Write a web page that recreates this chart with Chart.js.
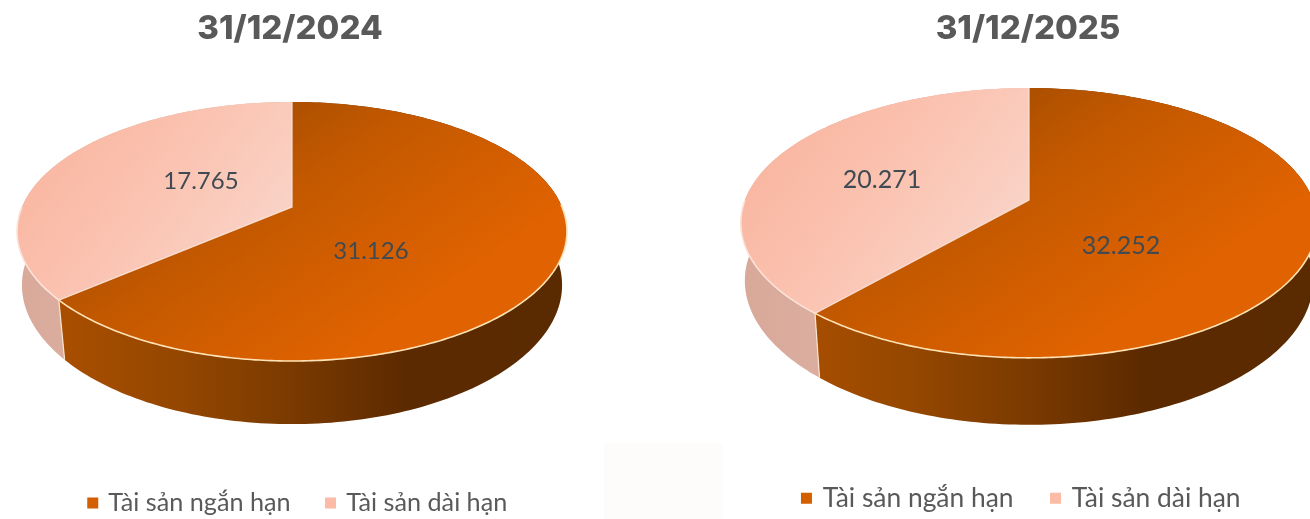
<!DOCTYPE html>
<html><head><meta charset="utf-8">
<style>
html,body{margin:0;padding:0;background:#fff;width:1310px;height:519px;overflow:hidden}
canvas{position:absolute;top:0}
#patch{position:absolute;left:604px;top:443px;width:118px;height:76px;background:#fdfcfa}
</style>
<script src="https://cdn.jsdelivr.net/npm/chart.js@4/dist/chart.umd.min.js"></script>
</head><body>
<div id="patch"></div>
<canvas id="c1" width="655" height="519" style="left:0"></canvas>
<canvas id="c2" width="655" height="519" style="left:655px"></canvas>
<script>
const categories = ["Tài sản ngắn hạn", "Tài sản dài hạn"];
const values2024 = [31.126, 17.765];
const values2025 = [32.252, 20.271];
const titles = ["31/12/2024", "31/12/2025"];
const ORANGE = "#D45F00", PEACH = "#FBBBA6";

const perspectivePie = {
  id: "perspectivePie",
  afterLayout(chart, args, o) {
    const l = chart.legend, t = chart.titleBlock;
    const dx = o.legendCx - (l.left + l.right) / 2, dy = o.legendTop - l.top;
    l.left += dx; l.right += dx; l.top += dy; l.bottom += dy;
    const tx = o.titleCx - (t.left + t.right) / 2, ty = o.titleTop - t.top;
    t.left += tx; t.right += tx; t.top += ty; t.bottom += ty;
  },
  beforeDatasetsDraw(chart, args, o) {
    const ctx = chart.ctx, arcs = chart.getDatasetMeta(0).data;
    const {ax, ay, W, A, k, depth, shrink, shrinkX, shrinkSlope} = o;
    const top = (a, r = 1) => {
      const u = r * Math.cos(a), v = r * Math.sin(a), d = 1 - k * v;
      return [ax + W * u / d, ay + A * v / d];
    };
    const bot = a => {
      const v = Math.sin(a), p = top(a), d = 1 - k * v;
      return [ax + (p[0] - ax) * (shrinkX - shrinkSlope * v), ay + (p[1] - ay) * shrink + depth / d];
    };
    const hgrad = (stops) => {
      const g = ctx.createLinearGradient(ax - 285, 0, ax + 285, 0);
      stops.forEach(s => g.addColorStop(s[0], s[1]));
      return g;
    };
    const sideFills = [
      hgrad([[0, "#AC5000"], [0.1, "#A84E00"], [0.3, "#944700"], [0.5, "#7A3A00"], [0.7, "#5C2A00"], [1, "#5A2A00"]]),
      hgrad([[0, "#D8A999"], [0.2, "#DDB0A2"], [1, "#DDB0A2"]])
    ];
    const og = ctx.createLinearGradient(ax - 30, ay - 105, ax + 130, ay + 130);
    og.addColorStop(0, "#A84E00"); og.addColorStop(0.3, "#C25800"); og.addColorStop(0.7, "#D65F00"); og.addColorStop(0.9, "#E06200"); og.addColorStop(1, "#E06200");
    const lg = ctx.createLinearGradient(ax - 250, ay - 70, ax - 40, ay + 90);
    lg.addColorStop(0, "#F9B6A0"); lg.addColorStop(0.55, "#FBC6B5"); lg.addColorStop(1, "#F8D6CB");
    const topFills = [og, lg];
    const N = 200;
    arcs.forEach((arc, i) => {
      const s = arc.startAngle, e = arc.endAngle;
      ctx.beginPath();
      for (let j = 0; j <= N; j++) { const p = top(s + (e - s) * j / N); j ? ctx.lineTo(p[0], p[1]) : ctx.moveTo(p[0], p[1]); }
      for (let j = N; j >= 0; j--) { const p = bot(s + (e - s) * j / N); ctx.lineTo(p[0], p[1]); }
      ctx.closePath();
      ctx.fillStyle = sideFills[i];
      ctx.fill();
    });
    const seam = arcs[1].startAngle;
    const s1 = top(seam), s2 = bot(seam);
    ctx.strokeStyle = "rgba(255,235,215,.9)"; ctx.lineWidth = 1.2;
    ctx.beginPath(); ctx.moveTo(s1[0], s1[1]); ctx.lineTo(s2[0], s2[1]); ctx.stroke();
    arcs.forEach((arc, i) => {
      const s = arc.startAngle, e = arc.endAngle;
      ctx.beginPath(); ctx.moveTo(ax, ay);
      for (let j = 0; j <= N; j++) { const p = top(s + (e - s) * j / N); ctx.lineTo(p[0], p[1]); }
      ctx.closePath();
      ctx.fillStyle = topFills[i];
      ctx.fill();
    });
    ctx.strokeStyle = "rgba(250,225,215,.85)"; ctx.lineWidth = 1.4;
    ctx.beginPath();
    let p = top(arcs[0].startAngle); ctx.moveTo(p[0], p[1]); ctx.lineTo(ax, ay);
    p = top(seam); ctx.lineTo(p[0], p[1]); ctx.stroke();
    ctx.strokeStyle = "#FFE2B4"; ctx.lineWidth = 1.6;
    ctx.beginPath();
    const r0 = -0.02, r1 = seam;
    for (let j = 0; j <= N; j++) { const q = top(r0 + (r1 - r0) * j / N); j ? ctx.lineTo(q[0], q[1]) : ctx.moveTo(q[0], q[1]); }
    ctx.stroke();
    ctx.strokeStyle = "#FBE3DA";
    ctx.beginPath();
    for (let j = 0; j <= 40; j++) { const q = top(seam + (Math.PI - seam) * j / 40); j ? ctx.lineTo(q[0], q[1]) : ctx.moveTo(q[0], q[1]); }
    ctx.stroke();
    ctx.font = o.labelFont; ctx.fillStyle = "#404A52"; ctx.textAlign = "center"; ctx.textBaseline = "middle";
    chart.data.datasets[0].data.forEach((v, i) => ctx.fillText(v.toFixed(3), o.labelPos[i][0], o.labelPos[i][1]));
    return false;
  }
};

function makePie(id, title, values, legendSize, legendGap, opts) {
  return new Chart(document.getElementById(id), {
    type: "pie",
    data: { labels: categories, datasets: [{ data: values, backgroundColor: [ORANGE, PEACH], borderColor: [ORANGE, PEACH], borderWidth: 5 }] },
    plugins: [perspectivePie],
    options: {
      responsive: false, animation: false,
      plugins: {
        tooltip: { enabled: false },
        title: { display: true, text: title, color: "#595959", padding: 0, font: { family: "Inter", weight: "800", size: 33 } },
        legend: { position: "bottom", labels: { boxWidth: 6, boxHeight: 6, padding: legendGap, color: "#595959", font: { family: "Lato", size: legendSize } } },
        perspectivePie: opts
      }
    }
  });
}

makePie("c1", titles[0], values2024, 25.2, 37, {
  ax: 292, ay: 207, W: 270, A: 124.9, k: 0.189, depth: 54.3, shrink: 0.975, shrinkX: 0.985, shrinkSlope: 0.015, labelFont: "24px Lato",
  labelPos: [[371, 251], [201, 181]], legendCx: 298.5, legendTop: 453.5, titleCx: 290, titleTop: 9
});
makePie("c2", titles[1], values2025, 26.4, 39, {
  ax: 374, ay: 200, W: 284, A: 131, k: 0.17, depth: 58.2, shrink: 0.98, shrinkX: 0.988, shrinkSlope: 0.012, labelFont: "25px Lato",
  labelPos: [[466, 246], [227, 180]], legendCx: 367, legendTop: 446, titleCx: 373, titleTop: 9
});
</script>
</body></html>
